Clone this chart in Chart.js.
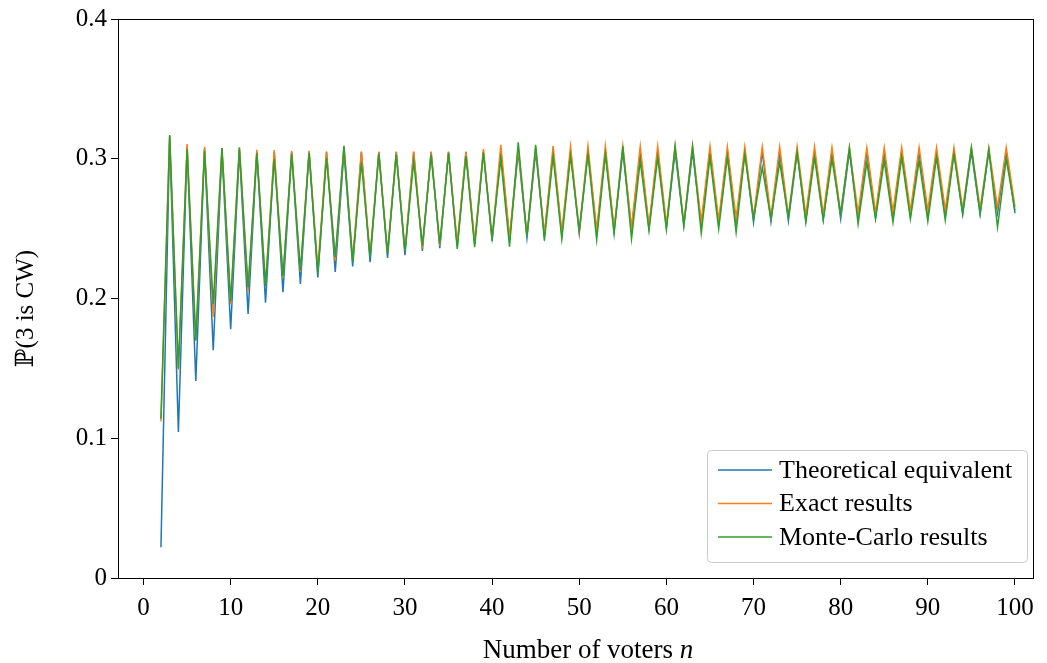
<!DOCTYPE html>
<html>
<head>
<meta charset="utf-8">
<script src="https://cdn.jsdelivr.net/npm/chart.js@4"></script>
<style>
  html, body { margin: 0; padding: 0; background: #fff; }
  canvas { display: block; }
</style>
</head>
<body>
<canvas id="chart" width="1047" height="663"></canvas>
<script>
// number of voters n
const voters = [
  2, 3, 4, 5, 6, 7, 8, 9, 10, 11, 12, 13, 14, 15, 16, 17, 18, 19, 20,
  21, 22, 23, 24, 25, 26, 27, 28, 29, 30, 31, 32, 33, 34, 35, 36, 37, 38, 39, 40,
  41, 42, 43, 44, 45, 46, 47, 48, 49, 50, 51, 52, 53, 54, 55, 56, 57, 58, 59, 60,
  61, 62, 63, 64, 65, 66, 67, 68, 69, 70, 71, 72, 73, 74, 75, 76, 77, 78, 79, 80,
  81, 82, 83, 84, 85, 86, 87, 88, 89, 90, 91, 92, 93, 94, 95, 96, 97, 98, 99, 100
];

const theoretical = [
  0.022, 0.316, 0.1045, 0.309, 0.141, 0.307, 0.163, 0.306, 0.178, 0.306, 0.189, 0.305, 0.197, 0.305, 0.2045, 0.305, 0.2105, 0.305, 0.215,
  0.305, 0.219, 0.305, 0.223, 0.305, 0.226, 0.305, 0.229, 0.305, 0.231, 0.305, 0.234, 0.305, 0.236, 0.305, 0.2375, 0.305, 0.239, 0.305, 0.241,
  0.305, 0.2425, 0.305, 0.2435, 0.305, 0.245, 0.305, 0.2455, 0.305, 0.2465, 0.305, 0.2475, 0.305, 0.2485, 0.305, 0.2495, 0.305, 0.2505, 0.305, 0.251,
  0.305, 0.252, 0.305, 0.2525, 0.305, 0.2535, 0.305, 0.254, 0.305, 0.2545, 0.305, 0.255, 0.305, 0.2555, 0.305, 0.256, 0.305, 0.2565, 0.305, 0.257,
  0.305, 0.2575, 0.305, 0.258, 0.305, 0.2585, 0.305, 0.259, 0.305, 0.259, 0.305, 0.2595, 0.305, 0.26, 0.305, 0.2605, 0.305, 0.261, 0.305, 0.261
];

const exact = [
  0.112, 0.316, 0.149, 0.3105, 0.170, 0.3086, 0.187, 0.3076, 0.196, 0.308, 0.205, 0.3064, 0.210, 0.3062, 0.215, 0.3057, 0.219, 0.3057, 0.222,
  0.3052, 0.227, 0.3088, 0.228, 0.3052, 0.231, 0.305, 0.233, 0.305, 0.235, 0.3052, 0.236, 0.305, 0.238, 0.305, 0.2395, 0.305, 0.2405, 0.307, 0.243,
  0.310, 0.2438, 0.308, 0.245, 0.308, 0.246, 0.309, 0.247, 0.309, 0.248, 0.309, 0.249, 0.309, 0.250, 0.309, 0.251, 0.309, 0.252, 0.309, 0.253,
  0.309, 0.254, 0.309, 0.255, 0.309, 0.256, 0.3086, 0.257, 0.3086, 0.258, 0.3086, 0.2585, 0.3086, 0.259, 0.3086, 0.2595, 0.3086, 0.260, 0.308, 0.2605,
  0.308, 0.261, 0.308, 0.2615, 0.308, 0.262, 0.308, 0.2625, 0.308, 0.263, 0.308, 0.2635, 0.308, 0.264, 0.308, 0.2645, 0.3075, 0.265, 0.308, 0.2655
];

const monteCarlo = [
  0.114, 0.317, 0.150, 0.307, 0.170, 0.3057, 0.196, 0.3076, 0.198, 0.308, 0.208, 0.304, 0.209, 0.300, 0.216, 0.3035, 0.220, 0.304, 0.218,
  0.3005, 0.2295, 0.3093, 0.226, 0.2974, 0.2295, 0.3033, 0.232, 0.303, 0.2338, 0.298, 0.238, 0.3029, 0.239, 0.304, 0.2355, 0.302, 0.2367, 0.3045, 0.2435,
  0.2998, 0.2371, 0.3117, 0.244, 0.310, 0.2414, 0.302, 0.2426, 0.302, 0.2486, 0.3033, 0.2419, 0.3033, 0.2462, 0.309, 0.2426, 0.2986, 0.2486, 0.301, 0.2493,
  0.309, 0.2521, 0.309, 0.2467, 0.301, 0.2498, 0.3014, 0.2474, 0.3033, 0.2569, 0.2938, 0.2569, 0.2974, 0.2581, 0.3045, 0.2545, 0.301, 0.2562, 0.2998, 0.2605,
  0.308, 0.2533, 0.2974, 0.2569, 0.2986, 0.2545, 0.301, 0.2569, 0.2986, 0.2552, 0.301, 0.256, 0.3033, 0.261, 0.308, 0.2605, 0.307, 0.251, 0.2998, 0.263
];

const xTicks = [0, 10, 20, 30, 40, 50, 60, 70, 80, 90, 100];
const yTicks = [0, 0.1, 0.2, 0.3, 0.4];

const seriesNames = ['Theoretical equivalent', 'Exact results', 'Monte-Carlo results'];
const seriesColors = ['#1f77b4', '#ff7f0e', '#2ca02c'];
const seriesValues = [theoretical, exact, monteCarlo];

const serif = "'Liberation Serif', 'DejaVu Serif', serif";

// box round the plot, the legend and the two axis titles
const decorations = {
  id: 'decorations',
  afterDatasetsDraw(chart) {
    const { ctx, chartArea: a } = chart;
    ctx.save();
    ctx.strokeStyle = '#000';
    ctx.lineWidth = 1;
    ctx.strokeRect(a.left + 0.5, a.top + 0.5, a.right - a.left, a.bottom - a.top);
    ctx.restore();
  },
  afterDraw(chart) {
    const { ctx, chartArea: a } = chart;
    ctx.save();

    // legend
    const lx = 707, ly = 450, lw = 320, lh = 112;
    ctx.beginPath();
    ctx.roundRect(lx + 0.5, ly + 0.5, lw, lh, 4);
    ctx.fillStyle = 'rgba(255,255,255,0.8)';
    ctx.fill();
    ctx.strokeStyle = '#cccccc';
    ctx.lineWidth = 1;
    ctx.stroke();

    ctx.font = '26px ' + serif;
    ctx.textBaseline = 'middle';
    ctx.textAlign = 'left';
    chart.data.datasets.forEach((ds, i) => {
      const y = 470 + i * 33.5;
      ctx.strokeStyle = ds.borderColor;
      ctx.lineWidth = 1.5;
      ctx.beginPath();
      ctx.moveTo(718, y);
      ctx.lineTo(772, y);
      ctx.stroke();
      ctx.fillStyle = '#000';
      ctx.fillText(ds.label, 779, y + 1);
    });

    // x title with italic n
    ctx.fillStyle = '#000';
    const plain = 'Number of voters ';
    ctx.font = '27px ' + serif;
    const w1 = ctx.measureText(plain).width;
    ctx.font = 'italic 27px ' + serif;
    const w2 = ctx.measureText('n').width;
    const x0 = 588 - (w1 + w2) / 2;
    ctx.textBaseline = 'alphabetic';
    ctx.font = '27px ' + serif;
    ctx.fillText(plain, x0, 658);
    ctx.font = 'italic 27px ' + serif;
    ctx.fillText('n', x0 + w1, 658);

    // y title
    ctx.translate(33, (a.top + a.bottom) / 2 + 10);
    ctx.rotate(-Math.PI / 2);
    ctx.textAlign = 'center';
    ctx.font = '25px ' + serif;
    ctx.fillText('\u2119(3 is CW)', 0, 0);
    ctx.restore();
  }
};

new Chart(document.getElementById('chart'), {
  type: 'line',
  data: {
    datasets: seriesNames.map((name, i) => ({
      label: name,
      data: voters.map((n, k) => ({ x: n, y: seriesValues[i][k] })),
      borderColor: seriesColors[i],
      backgroundColor: seriesColors[i],
      borderWidth: 1.5,
      pointRadius: 0,
      tension: 0,
      fill: false,
      order: 2 - i
    }))
  },
  options: {
    responsive: false,
    animation: false,
    layout: { padding: { left: 0, top: 17, right: 14, bottom: 0 } },
    plugins: { legend: { display: false }, tooltip: { enabled: false } },
    scales: {
      x: {
        type: 'linear',
        min: -2.93,
        max: 102.07,
        afterBuildTicks: (s) => { s.ticks = xTicks.map(v => ({ value: v })); },
        afterFit: (s) => { s.height = 85; },
        grid: { drawOnChartArea: false, drawTicks: true, tickLength: 7, color: '#000', lineWidth: 1 },
        border: { display: true, color: '#000', width: 1 },
        ticks: { color: '#000', font: { family: serif, size: 25 }, padding: 8, maxRotation: 0 }
      },
      y: {
        min: 0,
        max: 0.4,
        afterBuildTicks: (s) => { s.ticks = yTicks.map(v => ({ value: v })); },
        afterFit: (s) => { s.width = 118; },
        grid: { drawOnChartArea: false, drawTicks: true, tickLength: 7, color: '#000', lineWidth: 1 },
        border: { display: true, color: '#000', width: 1 },
        ticks: {
          color: '#000',
          font: { family: serif, size: 25 },
          padding: 4,
          callback: (v) => v === 0 ? '0' : v.toFixed(1)
        }
      }
    }
  },
  plugins: [decorations]
});
</script>
</body>
</html>
